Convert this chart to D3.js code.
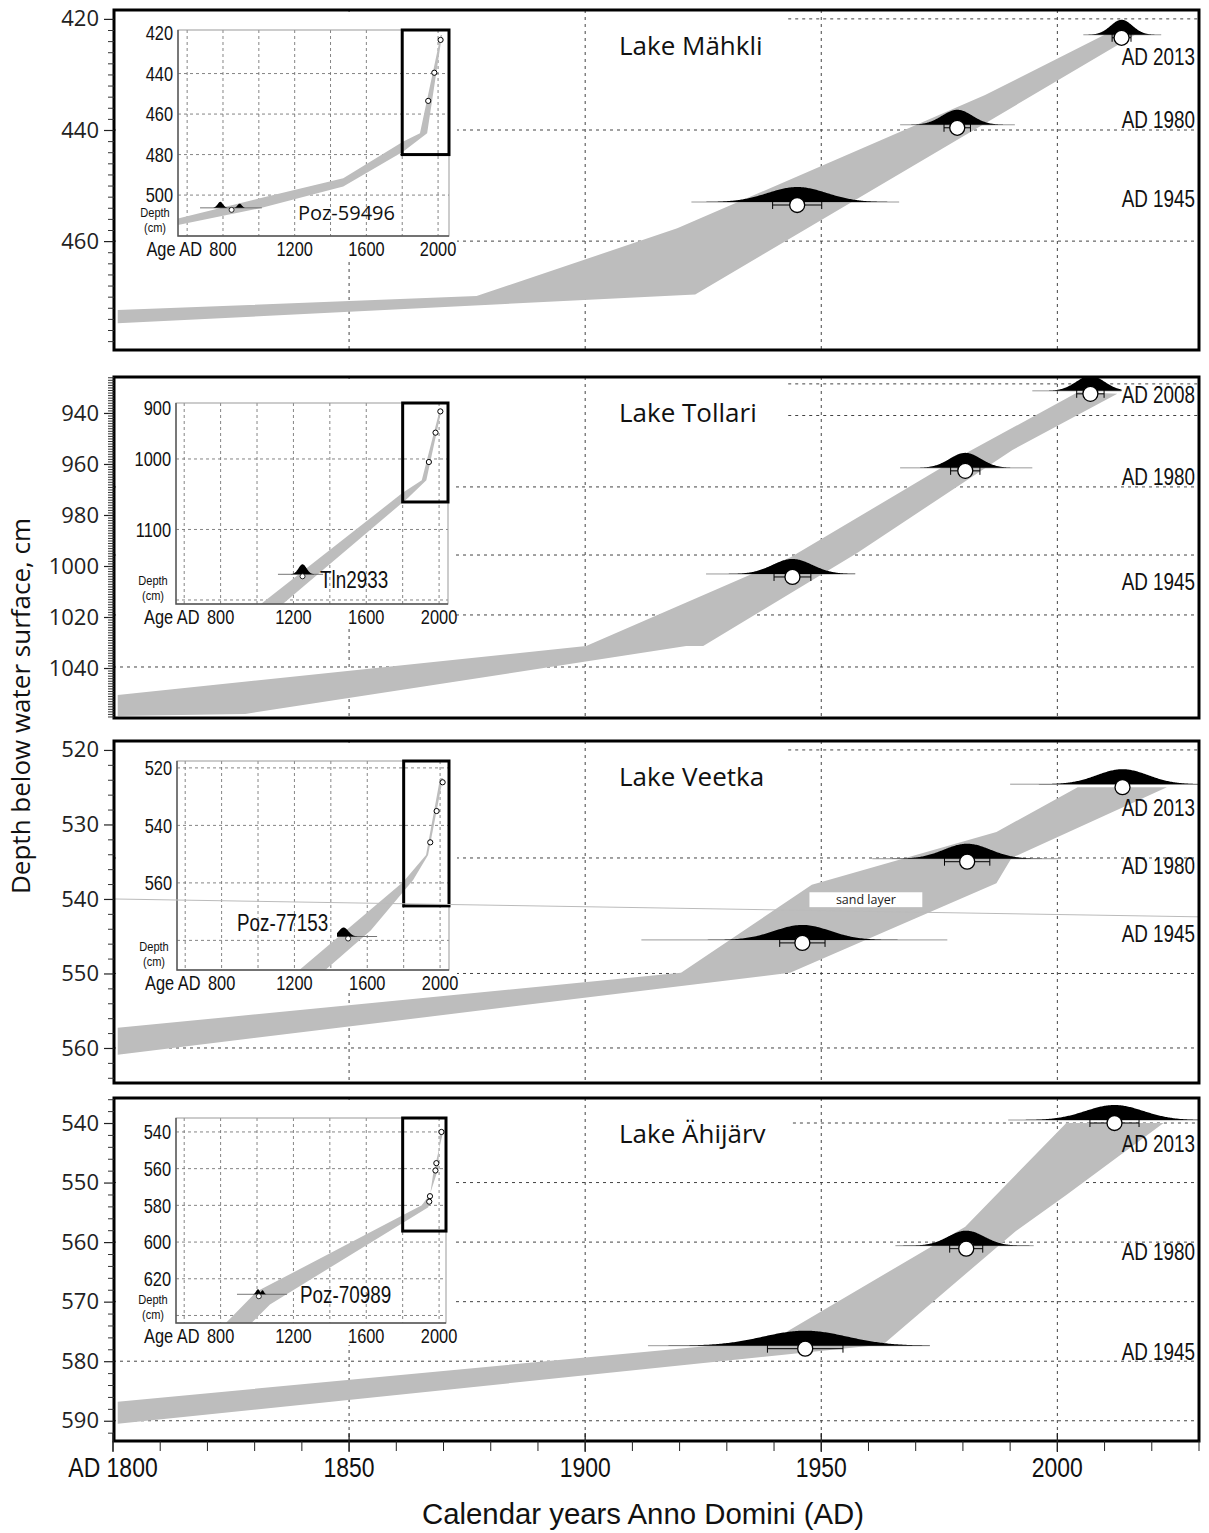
<!DOCTYPE html>
<html><head><meta charset="utf-8">
<script src="https://cdn.jsdelivr.net/npm/d3@7"></script>
<style>
body{margin:0;background:#fff}
svg{display:block}
.grid{stroke:#444;stroke-width:1;stroke-dasharray:3,4;fill:none}
.igrid{stroke:#777;stroke-width:0.9;stroke-dasharray:3,3;fill:none}
</style></head><body>
<svg id="c" width="1209" height="1533"></svg>
<script>
// ================= DATA =================
const axisYears = [1800,1850,1900,1950,2000];
const gridYears = [1850,1900,1950,2000];
const lakeNames = ["Lake Mähkli","Lake Tollari","Lake Veetka","Lake Ähijärv"];
const depthTickValues = [[420,440,460],[940,960,980,1000,1020,1040],[520,530,540,550,560],[540,550,560,570,580,590]];
const depthMinorStep = [2,1,2,2];
const depthDomains = [[418.4,479.6],[925.9,1059.6],[518.8,564.7],[535.8,593.4]];
const gridDepths = [
  [{d:420,from:1943},{d:440,from:1800},{d:460,from:1800}],
  [{d:928.6,from:1943},{d:941,from:1943},{d:969,from:1800},{d:995.7,from:1800},{d:1019.2,from:1800},{d:1039.6,from:1800}],
  [{d:520,from:1943},{d:534.5,from:1800},{d:550,from:1800},{d:560,from:1800}],
  [{d:540,from:1944},{d:550,from:1800},{d:560,from:1800},{d:570,from:1800},{d:580,from:1800},{d:590,from:1800}]
];
// age-depth model envelope: [year, depth]
const bandUpper = [
  [[1801,472.4],[1877,469.9],[1919.5,457.7],[1984.7,433.7],[2012,422.0]],
  [[1801,1050.6],[1900.2,1031.4],[1943.6,996.5],[1980.7,955.7],[2004.4,931.8]],
  [[1801,557.3],[1920.3,549.9],[1948,538.1],[1987.1,531],[2004.3,525]],
  [[1801,586.8],[1939.8,576.4],[1980.5,557.4],[2001.9,540]]
];
const bandLower = [
  [[1801,474.8],[1923.3,469.6],[2017,422.6]],
  [[1801,1058.8],[1828,1058],[1921.4,1031.4],[1925,1031.4],[1957.6,994.9],[1990.5,954.5],[2012.7,932.5]],
  [[1801,560.9],[1943.4,549.9],[1987.1,537.9],[1990.3,534.5],[2023.2,525]],
  [[1801,590.5],[1963.1,577.2],[1991.1,558.2],[2001.9,552.1],[2022.5,540]]
];
// dated horizons: year, depth, sd (yr), density extent, error (yr), label depth
const datesMahkli  = [
  {label:"AD 2013",yr:2013.6,d:423.4,sd:2.3,lo:2005.5,hi:2022,err:2.0,labelD:426.8},
  {label:"AD 1980",yr:1978.8,d:439.6,sd:3.2,lo:1966.7,hi:1991,err:2.8,labelD:438.2},
  {label:"AD 1945",yr:1944.9,d:453.5,sd:6.2,lo:1922.5,hi:1966.5,err:5.2,labelD:452.3}];
const datesTollari = [
  {label:"AD 2008",yr:2007,d:932.5,sd:3.0,lo:1994.7,hi:2013.6,err:2.9,labelD:932.9},
  {label:"AD 1980",yr:1980.5,d:962.7,sd:3.3,lo:1966.7,hi:1994.7,err:3.1,labelD:965.1},
  {label:"AD 1945",yr:1943.9,d:1004.3,sd:4.2,lo:1925.6,hi:1957.2,err:3.9,labelD:1006.3}];
const datesVeetka  = [
  {label:"AD 2013",yr:2013.8,d:525,sd:5.4,lo:1990,hi:2030,err:0,labelD:527.8},
  {label:"AD 1980",yr:1980.9,d:535,sd:4.9,lo:1960.8,hi:2000.2,err:4.8,labelD:535.6},
  {label:"AD 1945",yr:1946.0,d:545.9,sd:5.9,lo:1911.9,hi:1976.7,err:4.8,labelD:544.7}];
const datesAhijarv = [
  {label:"AD 2013",yr:2012.1,d:540,sd:6.1,lo:1989.6,hi:2030,err:5.2,labelD:543.4},
  {label:"AD 1980",yr:1980.7,d:561.1,sd:3.8,lo:1965.7,hi:1995,err:3.5,labelD:561.6},
  {label:"AD 1945",yr:1946.6,d:577.9,sd:8.9,lo:1913.3,hi:1973,err:8.0,labelD:578.4}];
const datesAll = [datesMahkli, datesTollari, datesVeetka, datesAhijarv];
// sand layer in Lake Veetka
const sandLabel = {text:"sand layer", from:1947.5, to:1971.4, top:539.1, bottom:541.1};
const sandLine = [[1800,540.0],[2030,542.4]];

// ---- insets (whole cores) ----
const insetXTicks = [800,1200,1600,2000];
const insetXGrid = [600,800,1000,1200,1400,1600,1800,2000];
const insetXDomains = [[549,2061],[555,2049],[555,2049],[555,2038]];
const insetYDomains = [[418.5,520.2],[920.6,1205.7],[517.6,590.3],[532.4,644.1]];
const insetYTicks = [[420,440,460,480,500],[900,1000,1100],[520,540,560],[540,560,580,600,620]];
const insetYGrid = [[440,460,480,500],[1000,1100,1200],[520,540,560,580],[540,560,580,600,620,640]];
const insetZoomFrom = 1800;
const insetZoomDepth = [480,1061,568,594];
const insetBandUpper = [
  [[549,511.5],[1006,501.6],[1471,491.7],[1806,473.6],[1899,469.5],[2015,421]],
  [[1020,1206],[1800,1048],[1905,1030],[2002,932]],
  [[1214,591],[1797,559.7],[1923,550.3],[2000,523.5]],
  [[820,645],[998,627],[1905,580],[1950,574],[1995,560],[2005,540]]
];
const insetBandLower = [
  [[549,514.8],[1006,506.5],[1471,495.8],[1806,478.5],[1939,469.5],[2022,421]],
  [[1140,1206],[1830,1055],[1930,1030],[2012,932]],
  [[1357,591],[1620,576.5],[1852,559],[1934,550.3],[2016,523.5]],
  [[960,645],[1071,634],[1941,581],[1967,563],[2022,540]]
];
const insetMarks = [
  [[2014,423.4],[1979,439.6],[1945,453.5]],
  [[2007,932.5],[1980.5,962.7],[1944,1004.3]],
  [[2014,525],[1981,535],[1946,545.9]],
  [[2013,540],[1985,557],[1980,561],[1950,575],[1946,578]]
];
const radiocarbon = [
  {label:"Poz-59496",yr:848,d:506.8,lo:672,hi:1017,comps:[[785,15,1],[893,12,0.7]],labelYr:1218,labelD:508.9,anchor:"start"},
  {label:"Tln2933",yr:1250,d:1165,lo:1115,hi:1363,comps:[[1250,22,1]],labelYr:1346,labelD:1171.6,anchor:"start"},
  {label:"Poz-77153",yr:1495,d:579,lo:1434,hi:1654,comps:[[1470,26,1]],labelYr:1385,labelD:573.9,anchor:"end"},
  {label:"Poz-70989",yr:1010,d:629,lo:890,hi:1165,comps:[[1005,10,1],[1030,8,0.8]],labelYr:1236,labelD:628.8,anchor:"start"}
];

// ================= LAYOUT / STYLE =================
const ARIAL = "'Liberation Sans',Arial,sans-serif";
const SANS = "'Open Sans','Noto Sans',sans-serif";
const NARROW_SCALE = 0.82;
const BAND = "#bdbdbd";
const PL = 114, PR = 1199;
const panelBox = [[10,350],[377,718],[741,1083],[1098,1441]];
const insetBox = [
  {l:178,r:449,t:30,b:236},{l:176,r:448,t:403,b:604},{l:177,r:449,t:761,b:970},{l:176,r:446,t:1118,b:1323}];
const c14Height = [6,10,9,5];
const DENS_H = 15;

const svg = d3.select("#c");
const defs = svg.append("defs");
const x = d3.scaleLinear().domain([1800,2030]).range([113,1199]);

function gauss(t, mu, s){ return Math.exp(-0.5*((t-mu)/s)**2); }
// narrow (condensed) text: Arial metrics squeezed horizontally, like Arial Narrow
function ntext(parent, px, py, txt, size, anchor, dy){
  return parent.append("text")
    .attr("transform",`translate(${px},${py}) scale(${NARROW_SCALE},1)`)
    .attr("text-anchor",anchor||"start").attr("dy",dy||null)
    .attr("font-family",ARIAL).attr("font-size",size).attr("fill","#111").text(txt);
}

lakeNames.forEach((name,i)=>{
  const [top,bottom] = panelBox[i];
  const y = d3.scaleLinear().domain(depthDomains[i]).range([top,bottom]);
  defs.append("clipPath").attr("id","clip"+i).append("rect")
    .attr("x",PL).attr("y",top).attr("width",PR-PL).attr("height",bottom-top);
  const g = svg.append("g").attr("clip-path",`url(#clip${i})`);

  g.selectAll(null).data(gridYears).enter().append("line").attr("class","grid")
    .attr("x1",d=>x(d)).attr("x2",d=>x(d)).attr("y1",top).attr("y2",bottom);
  g.selectAll(null).data(gridDepths[i]).enter().append("line").attr("class","grid")
    .attr("x1",d=>x(d.from)).attr("x2",PR).attr("y1",d=>y(d.d)).attr("y2",d=>y(d.d));

  const poly = bandUpper[i].concat(bandLower[i].slice().reverse());
  g.append("path").attr("d", d3.line().x(p=>x(p[0])).y(p=>y(p[1]))(poly)+"Z").attr("fill",BAND);

  datesAll[i].forEach(dt=>{
    const yb = y(dt.d)-3;
    g.append("line").attr("x1",x(dt.lo)).attr("x2",x(dt.hi)).attr("y1",yb).attr("y2",yb)
      .attr("stroke","#9a9a9a").attr("stroke-width",1);
    const pts = d3.range(0,201).map(k=>dt.lo+(dt.hi-dt.lo)*k/200);
    g.append("path").attr("fill","#000")
      .attr("d", d3.area().x(t=>x(t)).y0(yb).y1(t=>yb-DENS_H*gauss(t,dt.yr,dt.sd))(pts));
    const yc = y(dt.d);
    if (dt.err>0){
      const wg = g.append("g").attr("stroke","#000").attr("stroke-width",1);
      wg.append("line").attr("x1",x(dt.yr-dt.err)).attr("x2",x(dt.yr+dt.err)).attr("y1",yc).attr("y2",yc);
      [dt.yr-dt.err, dt.yr+dt.err].forEach(v=>wg.append("line").attr("x1",x(v)).attr("x2",x(v)).attr("y1",yc-4).attr("y2",yc+4));
    }
    g.append("circle").attr("cx",x(dt.yr)).attr("cy",yc).attr("r",7.5)
      .attr("fill","#fff").attr("stroke","#000").attr("stroke-width",1.3);
    ntext(svg, 1195, y(dt.labelD), dt.label, 23, "end", "0.36em");
  });

  if (i===2){
    g.append("rect").attr("x",x(sandLabel.from)).attr("y",y(sandLabel.top))
      .attr("width",x(sandLabel.to)-x(sandLabel.from)).attr("height",y(sandLabel.bottom)-y(sandLabel.top))
      .attr("fill","#fff");
    g.append("text").attr("x",(x(sandLabel.from)+x(sandLabel.to))/2).attr("y",(y(sandLabel.top)+y(sandLabel.bottom))/2)
      .attr("dy","0.35em").attr("text-anchor","middle").attr("font-family",SANS).attr("font-size",12.5)
      .attr("fill","#222").text(sandLabel.text);
  }

  // ---------- inset ----------
  const b = insetBox[i];
  const xi = d3.scaleLinear().domain(insetXDomains[i]).range([b.l,b.r]);
  const yi = d3.scaleLinear().domain(insetYDomains[i]).range([b.t,b.b]);
  const ig = svg.append("g");
  ig.append("rect").attr("x",PL+2).attr("y",top+2).attr("width",b.r+8-PL-2).attr("height",b.b+22-top-2).attr("fill","#fff");
  defs.append("clipPath").attr("id","iclip"+i).append("rect")
    .attr("x",b.l).attr("y",b.t).attr("width",b.r-b.l).attr("height",b.b-b.t);
  const ic = ig.append("g").attr("clip-path",`url(#iclip${i})`);
  ic.selectAll(null).data(insetXGrid).enter().append("line").attr("class","igrid")
    .attr("x1",d=>xi(d)).attr("x2",d=>xi(d)).attr("y1",b.t).attr("y2",b.b);
  ic.selectAll(null).data(insetYGrid[i]).enter().append("line").attr("class","igrid")
    .attr("x1",b.l).attr("x2",b.r).attr("y1",d=>yi(d)).attr("y2",d=>yi(d));
  const ipoly = insetBandUpper[i].concat(insetBandLower[i].slice().reverse());
  ic.append("path").attr("d", d3.line().x(p=>xi(p[0])).y(p=>yi(p[1]))(ipoly)+"Z").attr("fill",BAND);
  const rc = radiocarbon[i];
  const ry = yi(rc.d);
  ic.append("line").attr("x1",xi(rc.lo)).attr("x2",xi(rc.hi)).attr("y1",ry-1).attr("y2",ry-1)
    .attr("stroke","#666").attr("stroke-width",0.9);
  const rpts = d3.range(0,201).map(k=>rc.lo+(rc.hi-rc.lo)*k/200);
  ic.append("path").attr("fill","#000").attr("d", d3.area().x(t=>xi(t)).y0(ry-1)
    .y1(t=>ry-1-c14Height[i]*d3.max(rc.comps,c=>c[2]*gauss(t,c[0],c[1])))(rpts));
  ic.append("circle").attr("cx",xi(rc.yr)).attr("cy",ry+1).attr("r",2.5).attr("fill","#fff").attr("stroke","#000").attr("stroke-width",0.8);
  ic.selectAll(null).data(insetMarks[i]).enter().append("circle")
    .attr("cx",d=>xi(d[0])).attr("cy",d=>yi(d[1])).attr("r",2.6)
    .attr("fill","#fff").attr("stroke","#000").attr("stroke-width",1);
  ig.append("rect").attr("x",b.l).attr("y",b.t).attr("width",b.r-b.l).attr("height",b.b-b.t)
    .attr("fill","none").attr("stroke","#999").attr("stroke-width",1);
  ig.append("path").attr("d",`M${b.l},${b.t}V${b.b}H${b.r}`).attr("fill","none").attr("stroke","#555").attr("stroke-width",1.4);
  ig.append("rect").attr("x",xi(insetZoomFrom)).attr("y",b.t)
    .attr("width",b.r-xi(insetZoomFrom)).attr("height",yi(insetZoomDepth[i])-b.t)
    .attr("fill","none").attr("stroke","#000").attr("stroke-width",3);
  if (i===0){
    ig.append("text").attr("x",xi(rc.labelYr)).attr("y",yi(rc.labelD)).attr("dy","0.36em")
      .attr("text-anchor",rc.anchor).attr("font-family",SANS).attr("font-size",20).attr("fill","#111").text(rc.label);
  } else {
    ntext(ig, xi(rc.labelYr), yi(rc.labelD), rc.label, 23, rc.anchor, "0.36em");
  }
  const yAxisScale = (i===1)
    ? d3.scaleLinear().domain([900,1000,insetYDomains[1][1]]).range([b.t+5,yi(1000),b.b])
    : yi;
  insetYTicks[i].forEach(v=>ntext(ig, b.l-5, yAxisScale(v), v, 20, "end", "0.36em"));
  ntext(ig, b.l-23, b.b-19, "Depth", 13.5, "middle");
  ntext(ig, b.l-23, b.b-4, "(cm)", 13.5, "middle");
  insetXTicks.forEach(v=>ntext(ig, xi(v), b.b+20, v, 20, "middle"));
  ntext(ig, xi(800)-21, b.b+20, "Age AD", 20, "end");

  if (i===2){
    svg.append("path").attr("d", d3.line().x(p=>x(p[0])).y(p=>y(p[1]))(sandLine))
      .attr("stroke","#bbb").attr("stroke-width",1).attr("fill","none");
  }

  svg.append("text").attr("x",619).attr("y",top+45).attr("font-family",SANS).attr("font-size",26)
    .attr("fill","#111").text(name);

  svg.append("rect").attr("x",PL).attr("y",top).attr("width",PR-PL).attr("height",bottom-top)
    .attr("fill","none").attr("stroke","#000").attr("stroke-width",3);

  const dom = depthDomains[i];
  const step = depthMinorStep[i];
  const minors = d3.range(Math.ceil(dom[0]/step)*step, dom[1], step).filter(v=>!depthTickValues[i].includes(v));
  const ax = svg.append("g").attr("transform",`translate(${PL},0)`);
  ax.call(d3.axisLeft(y).tickValues(minors).tickSize(6).tickSizeOuter(0).tickFormat(""));
  ax.select(".domain").remove();
  ax.selectAll("line").attr("stroke","#333").attr("stroke-width",1);
  const ax2 = svg.append("g").attr("transform",`translate(${PL},0)`);
  ax2.call(d3.axisLeft(y).tickValues(depthTickValues[i]).tickSize(10).tickSizeOuter(0).tickPadding(5).tickFormat(d3.format("d")));
  ax2.select(".domain").remove();
  ax2.selectAll("text").attr("font-family",SANS).attr("font-size",22).attr("fill","#222");
  ax2.selectAll("line").attr("stroke","#222").attr("stroke-width",1.2);
});

// x axis
const bottomY = panelBox[3][1];
const xa = svg.append("g");
xa.selectAll(null).data(d3.range(1800,2031,10)).enter().append("line")
  .attr("x1",d=>x(d)).attr("x2",d=>x(d)).attr("y1",bottomY).attr("y2",bottomY+10)
  .attr("stroke","#222").attr("stroke-width",1);
xa.selectAll(null).data(axisYears).enter().append("line")
  .attr("x1",d=>x(d)).attr("x2",d=>x(d)).attr("y1",bottomY-8).attr("y2",bottomY+11)
  .attr("stroke","#222").attr("stroke-width",1.3);
axisYears.forEach(v=>ntext(xa, x(v), bottomY+36, v===1800?"AD 1800":v, 28, "middle"));

// axis titles
svg.append("text").attr("x",643).attr("y",1524).attr("text-anchor","middle")
  .attr("font-family",ARIAL).attr("font-size",30).attr("fill","#111")
  .attr("textLength",442).attr("lengthAdjust","spacingAndGlyphs")
  .text("Calendar years Anno Domini (AD)");
svg.append("text").attr("transform","translate(30,706) rotate(-90)").attr("text-anchor","middle")
  .attr("font-family",SANS).attr("font-size",26).attr("fill","#111")
  .text("Depth below water surface, cm");
</script>
</body></html>
